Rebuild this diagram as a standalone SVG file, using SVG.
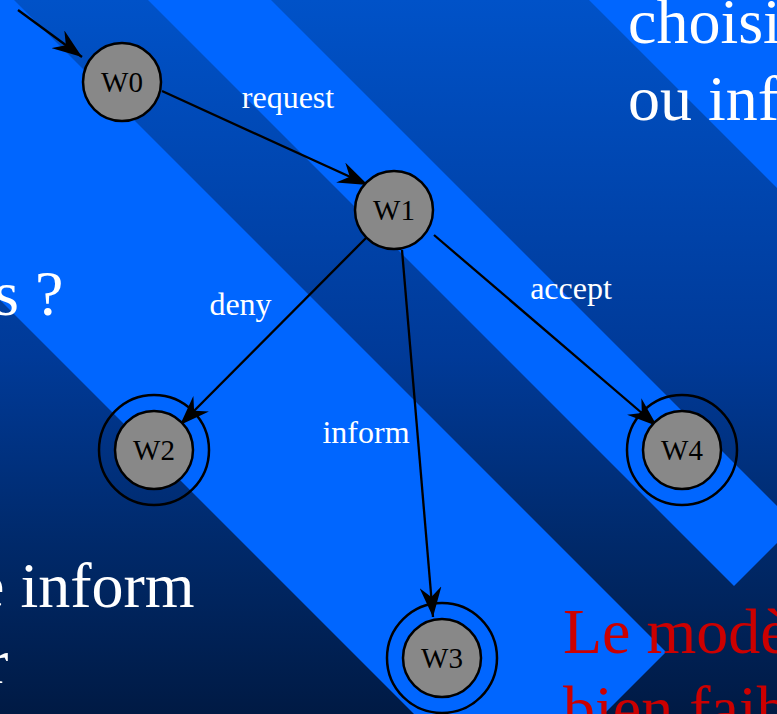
<svg xmlns="http://www.w3.org/2000/svg" width="777" height="714" viewBox="0 0 777 714">
<defs>
<linearGradient id="bg" x1="0" y1="0" x2="0" y2="1">
<stop offset="0" stop-color="#0052c8"/>
<stop offset="0.5" stop-color="#003a98"/>
<stop offset="0.75" stop-color="#002a6c"/>
<stop offset="1" stop-color="#001a44"/>
</linearGradient>
<marker id="arr" viewBox="0 0 30 22" refX="30" refY="11" markerWidth="30" markerHeight="22" markerUnits="userSpaceOnUse" orient="auto">
<path d="M30,11 L0,0 L10,11 L0,22 Z" fill="#000"/>
</marker>
</defs>
<style>
.band{fill:#0066ff}
.big{font-family:"Liberation Serif","Times New Roman",serif;font-size:64px;fill:#fff}
.red{fill:#cc0000}
.node circle{fill:#888;stroke:#000;stroke-width:2.5}
.node circle.outer{fill:none}
.node text{font-family:"Liberation Serif","Times New Roman",serif;font-size:29px;fill:#000;text-anchor:middle}
.edge{stroke:#000;stroke-width:2.3;fill:none;marker-end:url(#arr)}
.lbl{font-family:"Liberation Serif","Times New Roman",serif;font-size:32px;fill:#fff;text-anchor:middle}
</style>
<rect x="0" y="0" width="777" height="714" fill="url(#bg)"/>
<g id="background-bands">
<polygon class="band" points="-36,-50 666,652 509,809 -350,-50"/>
<polygon class="band" points="98,-50 221,-50 795.5,524.5 734,586"/>
<polygon class="band" points="539,-50 900,-50 900,311"/>
</g>
<g id="slide-text">
<text class="big" x="628" y="43">choisi</text>
<text class="big" x="628" y="120">ou inf</text>
<text class="big" x="-6" y="315">s ?</text>
<text class="big" x="-24" y="607">e inform</text>
<text class="big" x="-13" y="683">r</text>
<text class="big red" x="563" y="653">Le modè</text>
<text class="big red" x="563" y="730">bien faib</text>
</g>
<g id="connectors">
<path class="edge" d="M18,10 L82,57"/>
<path class="edge" d="M162,91 L368,185"/>
<path class="edge" d="M369,235 L180,425"/>
<path class="edge" d="M402,250 L433,617"/>
<path class="edge" d="M434,235 L657,426"/>
<text class="lbl" x="288" y="108">request</text>
<text class="lbl" x="240.5" y="315">deny</text>
<text class="lbl" x="366" y="443">inform</text>
<text class="lbl" x="571" y="299">accept</text>
</g>
<g id="W0" class="node">
<circle cx="122" cy="82" r="39"/>
<text x="122" y="92">W0</text>
</g>
<g id="W1" class="node">
<circle cx="394" cy="210" r="39"/>
<text x="394" y="220">W1</text>
</g>
<g id="W2" class="node">
<circle class="outer" cx="154" cy="450" r="55"/>
<circle cx="154" cy="450" r="39"/>
<text x="154" y="460">W2</text>
</g>
<g id="W3" class="node">
<circle class="outer" cx="442" cy="658" r="55"/>
<circle cx="442" cy="658" r="39"/>
<text x="442" y="668">W3</text>
</g>
<g id="W4" class="node">
<circle class="outer" cx="682" cy="450" r="55"/>
<circle cx="682" cy="450" r="39"/>
<text x="682" y="460">W4</text>
</g>
</svg>
